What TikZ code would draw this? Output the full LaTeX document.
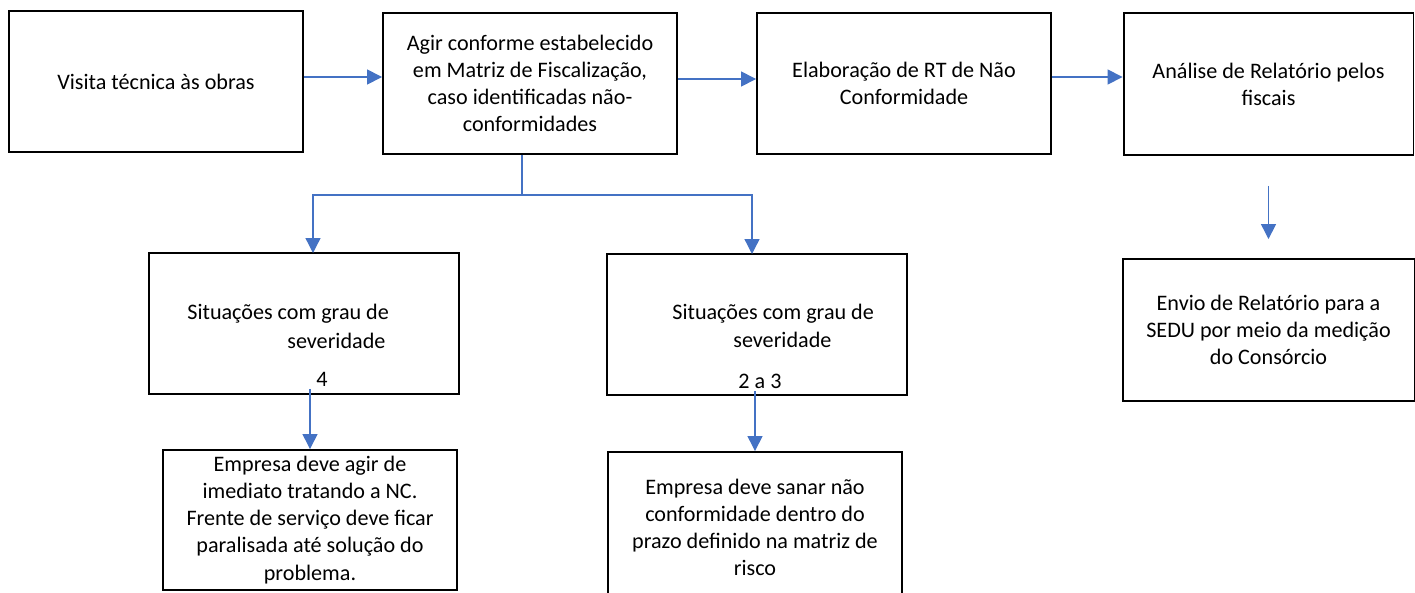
\documentclass[tikz,border=0pt]{standalone}
\usepackage{fontspec}
\setmainfont{Carlito}
\usepackage{xcolor}
\usepackage{tikz}
\usetikzlibrary{arrows.meta,positioning,calc}

\definecolor{azul}{HTML}{4472C4}

\tikzset{
  caixa/.style={draw=black, line width=1.1pt, rectangle, inner sep=0pt, align=center,
    font=\fontsize{12.6}{15.4}\selectfont},
  texto/.style={inner sep=0pt, font=\fontsize{12.6}{15.4}\selectfont},
  linha/.style={draw=azul, line width=0.75pt},
  seta/.style={linha, -{Triangle[width=0.3cm,length=0.3cm]}}
}

\begin{document}
\begin{tikzpicture}[x=0.02cm,y=-0.02cm]

\useasboundingbox (0,0) rectangle (1415,592);

% linha de cima
\node[caixa, minimum width=5.88cm, minimum height=2.82cm] (visita) at (156,81.5) {Visita técnica às obras};
\node[caixa, minimum width=5.88cm, minimum height=2.82cm] (agir) at (530,83.5)
  {Agir conforme estabelecido\\em Matriz de Fiscalização,\\caso identificadas não-\\conformidades};
\node[caixa, minimum width=5.88cm, minimum height=2.82cm] (elab) at (904,83.5)
  {Elaboração de RT de Não\\Conformidade};
\node[caixa, minimum width=5.8cm, minimum height=2.84cm] (analise) at (1268.5,84)
  {Análise de Relatório pelos\\fiscais};

\draw[seta] ([yshift=0.09cm]visita.east) -- ([yshift=0.09cm]visita.east -| agir.west);
\draw[seta] ([yshift=0.09cm]agir.east) -- ([yshift=0.09cm]agir.east -| elab.west);
\draw[seta] ([yshift=0.13cm]elab.east) -- ([yshift=0.13cm]elab.east -| analise.west);

% severidades
\node[caixa, minimum width=6.2cm, minimum height=2.82cm] (sev4) at (304,323.5) {};
\node[texto, anchor=west] (sev4a) at (187,314) {Situações com grau de};
\node[texto, anchor=west] (sev4b) at (287,341) {severidade};
\node[texto] (grau4) at (322,379) {4};

\node[caixa, minimum width=6.0cm, minimum height=2.82cm] (sev23) at (757,324.5) {};
\node[texto, anchor=west] (sev23a) at (672,314) {Situações com grau de};
\node[texto, anchor=west] (sev23b) at (733,340) {severidade};
\node[texto] (grau23) at (760,381) {2 a 3};

\coordinate (bif) at (522,195);
\coordinate (ent4) at (313,253);
\coordinate (ent23) at (752,254);
\draw[linha] (agir.south -| bif) -- (bif);
\draw[seta] (bif) -| (ent4);
\draw[seta] (bif) -| (ent23);

% acoes
\node[caixa, minimum width=5.88cm, minimum height=2.8cm] (acao4) at (310,520)
  {Empresa deve agir de\\imediato tratando a NC.\\Frente de serviço deve ficar\\paralisada até solução do\\problema.};
\node[caixa, minimum width=5.88cm, minimum height=3.0cm] (acao23) at (755,527)
  {Empresa deve sanar não\\conformidade dentro do\\prazo definido na matriz de\\risco};

\draw[seta] ([yshift=-0.05cm]acao4.north |- grau4.south) -- (acao4.north);
\draw[seta] ([yshift=-0.05cm]acao23.north |- grau23.south) -- (acao23.north);

% envio
\node[caixa, minimum width=5.84cm, minimum height=2.84cm] (envio) at (1268.5,330)
  {Envio de Relatório para a\\SEDU por meio da medição\\do Consórcio};
\draw[seta] ([yshift=-0.6cm]analise.south) -- ([yshift=0.38cm]envio.north);

\end{tikzpicture}
\end{document}
